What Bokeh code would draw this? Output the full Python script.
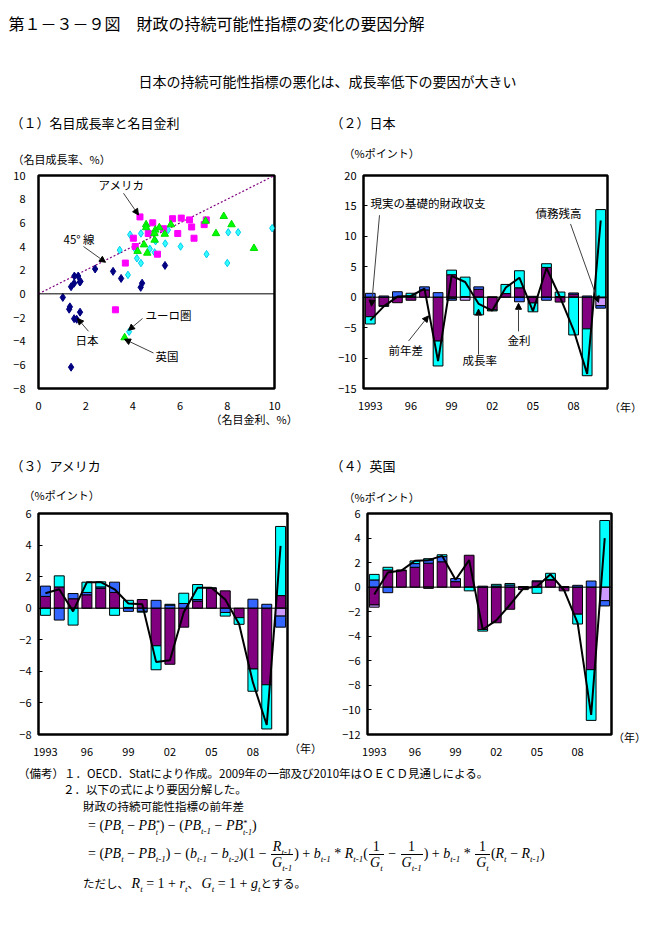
from bokeh.plotting import figure
from bokeh.layouts import column, row
from bokeh.models import Range1d, FixedTicker, Span, Arrow, NormalHead, Label, Div, ColumnDataSource
from bokeh.embed import file_html
from bokeh.resources import INLINE
from bokeh.core.properties import value

FONT = "Noto Sans CJK JP"

# ---------------- data ----------------
years = list(range(1993, 2011))
tick_years = [1993, 1996, 1999, 2002, 2005, 2008]
tick_labels = ["1993", "96", "99", "02", "05", "08"]

# (1) nominal interest rate (x) vs nominal growth rate (y), %
japan_rate = [1.03, 1.30, 1.33, 1.76, 1.51, 1.62, 1.38, 1.38, 1.51, 1.52, 1.68, 1.75, 1.78, 2.40, 3.16, 3.50, 4.33, 4.39, 5.36]
japan_growth = [-0.3, -1.3, -1.1, -1.55, -2.1, -2.15, -6.2, 0.6, 0.9, 1.5, 1.5, 1.0, 1.05, 2.1, 1.9, 1.3, 0.55, 0.9, 2.4]
us_rate = [4.30, 4.84, 5.30, 5.68, 6.05, 6.40, 6.49, 7.02, 7.11, 6.59, 5.90, 4.65, 4.02, 4.10, 5.04, 3.68, 3.26]
us_growth = [6.5, 6.0, 5.5, 6.35, 6.4, 6.25, 5.65, 5.85, 6.25, 4.7, 5.1, 5.1, 4.7, 4.0, 3.35, 2.6, -1.35]
euro_rate = [3.88, 4.34, 5.49, 3.44, 4.09, 4.17, 4.34, 4.72, 4.96, 5.37, 4.92, 3.79, 6.02, 7.12, 8.0, 8.04, 8.46, 9.9, 3.84]
euro_growth = [5.0, 5.1, 5.4, 3.7, 3.8, 3.0, 2.6, 3.8, 4.45, 4.25, 3.5, 1.6, 4.0, 3.35, 2.6, 5.2, 5.2, 5.55, -3.2]
uk_rate = [4.56, 4.56, 4.95, 5.12, 4.91, 5.61, 5.35, 4.47, 4.20, 4.61, 4.92, 7.08, 7.52, 7.85, 8.18, 9.13, 3.65]
uk_growth = [5.85, 5.6, 5.4, 5.6, 5.1, 5.85, 5.05, 4.15, 3.6, 3.45, 4.55, 6.15, 5.1, 6.55, 5.85, 3.85, -3.7]
line45_x = [0, 10]
line45_y = [0, 10]

# (2) Japan, %pt
jp_primary = [-3.2, -1.4, -0.9, -0.5, 1.2, -7.2, 3.7, 0.1, 1.3, -2.1, 0.6, 1.55, -0.95, 4.9, -0.8, 0.5, -5.2, -0.1]
jp_debt = [0, 0, 0, 0, 0, 0, -0.25, -0.5, 0, 0, 0, 0, 0, 0, 0, 0, 0, -1.3]
jp_interest = [0.64, 0.2, 0.9, 0.2, 0.5, 0.75, -0.25, 0, 0.4, 0.05, 0, -0.75, 0.15, -0.5, 0.1, 0.2, 0.2, -0.4]
jp_growth = [-1.2, -0.1, 0, 0.45, 0, -4.1, 0.75, 3.2, -2.9, -0.15, 1.5, 2.8, -1.45, 0.6, 0.75, -6.2, -7.7, 14.4]
jp_change = [-3.8, -1.5, 0.1, 0.2, 1.4, -10.5, 3.5, 2.5, -1.1, -2.2, 1.6, 3.2, -2.3, 4.8, 0.0, -5.4, -12.6, 12.6]

# (3) United States, %pt
us_primary = [0.75, 1.35, 0.6, 0.85, 1.25, 1.0, 0.05, 0.55, -2.38, -3.55, -1.2, 0.45, 1.27, 1.1, -0.6, -3.85, -4.85, 0.8]
us_debt = [0, 0, 0, 0, 0, 0, 0, 0, 0, 0, 0, 0, 0, 0, 0, 0, 0, -0.5]
us_interest = [0.65, -0.75, 0.33, 0.15, 0.1, 0.65, -0.2, -0.2, 0.5, 0.2, 0.3, 0.1, 0.02, -0.27, 0, 0.57, 0.25, -0.7]
us_growth_c = [-0.45, 0.7, -1.07, 0.65, 0.32, -0.45, 0.45, -0.05, -1.52, 0.05, 0.65, 0.95, 0, -0.23, -0.42, -1.41, -2.8, 4.38]
us_change = [0.95, 1.2, -0.2, 1.65, 1.65, 1.2, 0.3, 0.25, -3.4, -3.3, -0.25, 1.3, 1.3, 0.55, -1.0, -4.7, -7.4, 3.95]

# (4) United Kingdom, %pt
uk_primary = [-1.45, 1.4, 1.35, 1.62, 1.95, 2.07, 0.45, 2.6, -3.45, -2.9, -1.8, -0.2, 0.45, 0.58, -0.3, -2.2, -6.72, 0]
uk_debt = [-0.18, 0, 0, 0, -0.1, 0, 0, 0, 0, 0, 0, 0, 0, 0, 0, 0, 0, -1.1]
uk_interest = [0.59, -0.45, 0.05, 0.3, 0.25, 0.42, 0.25, 0, 0.08, 0.1, 0.18, 0.05, 0.07, 0.05, 0.05, 0.15, 0.5, -0.43]
uk_growth_c = [0.45, 0.22, 0, 0.22, 0.12, 0.15, 0, -0.3, -0.13, 0.13, 0.12, 0, -0.5, 0.5, 0, -0.8, -4.13, 5.43]
uk_change = [-0.6, 1.2, 1.35, 2.15, 2.2, 2.55, 0.6, 2.2, -3.45, -2.7, -1.45, -0.1, 0.05, 1.05, -0.25, -2.9, -10.4, 4.0]

C_PRIMARY = "#800080"
C_DEBT = "#CC99FF"
C_INTEREST = "#3366FF"
C_GROWTH = "#00FFFF"


# ---------------- helpers ----------------
def page_map(frame, xr, yr):
    fx0, fx1, fy0, fy1 = frame

    def f(px, py):
        return (xr[0] + (px - fx0) * (xr[1] - xr[0]) / (fx1 - fx0),
                yr[1] - (py - fy0) * (yr[1] - yr[0]) / (fy1 - fy0))
    return f


def make_fig(fig_left, fig_top, width, height, frame, xr, yr):
    fx0, fx1, fy0, fy1 = frame
    p = figure(width=width, height=height, x_range=Range1d(*xr), y_range=Range1d(*yr),
               output_backend="svg", toolbar_location=None,
               min_border_left=fx0 - fig_left, min_border_right=fig_left + width - fx1,
               min_border_top=fy0 - fig_top, min_border_bottom=fig_top + height - fy1)
    p.xgrid.visible = False
    p.ygrid.visible = False
    p.outline_line_color = "black"
    p.outline_line_width = 2.5
    p.background_fill_color = "white"
    p.border_fill_color = "white"
    for ax in (p.xaxis[0], p.yaxis[0]):
        ax.axis_line_color = None
        ax.major_tick_line_color = None
        ax.minor_tick_line_color = None
        ax.major_label_text_font = FONT
        ax.major_label_text_font_size = "11px"
        ax.major_label_text_color = "black"
        ax.major_label_standoff = 7
    return p, page_map(frame, xr, yr)


def text_fig(x0, y0, width, height, items):
    """A strip of plain text, drawn in page pixel coordinates."""
    t = figure(width=width, height=height, x_range=Range1d(x0, x0 + width),
               y_range=Range1d(y0 + height, y0), output_backend="svg", toolbar_location=None,
               x_axis_location=None, y_axis_location=None, min_border=0)
    t.grid.visible = False
    t.outline_line_color = None
    t.background_fill_color = "white"
    t.border_fill_color = "white"
    for px, py, txt, size, align in items:
        t.text(x=[px], y=[py], text=[txt], text_font=value(FONT), text_font_size=size,
               text_baseline="middle", text_align=align, text_color="black")
    return t


def text_div(x0, y0, width, height, items):
    """A narrow strip of text placed with HTML, page pixel coordinates."""
    inner = "".join(
        f"<div style=\"position:absolute;left:{px - x0}px;top:{py - y0 - 8}px;white-space:nowrap;"
        f"line-height:16px;font-family:'{FONT}';font-size:{size};color:#000;\">{txt}</div>"
        for px, py, txt, size in items)
    return Div(text=f"<div style='position:relative;width:{width}px;height:{height}px;'>{inner}</div>",
               width=width, height=height, margin=(0, 0, 0, 0))


def add_text(p, m, px, py, text, size="11.5px", align="left"):
    x, y = m(px, py)
    p.add_layout(Label(x=x, y=y, text=text, text_font=FONT, text_font_size=size,
                       text_align=align, text_baseline="middle", text_color="black"))


def add_arrow(p, m, p0, p1):
    x0, y0 = m(*p0)
    x1, y1 = m(*p1)
    p.add_layout(Arrow(end=NormalHead(size=6, fill_color="black", line_color="black", line_width=1),
                       x_start=x0, y_start=y0, x_end=x1, y_end=y1,
                       line_color="#404040", line_width=1))


def bar_panel(fig_left, fig_top, width, height, frame, yr, yticks,
              primary, debt, interest, growth, change):
    p, m = make_fig(fig_left, fig_top, width, height, frame, (1992.5, 2010.5), yr)
    p.xaxis.ticker = FixedTicker(ticks=tick_years)
    p.xaxis.major_label_overrides = {y: lab for y, lab in zip(tick_years, tick_labels)}
    p.yaxis.ticker = FixedTicker(ticks=yticks)
    p.yaxis.major_tick_line_color = "black"
    p.yaxis.major_tick_in = 4
    p.yaxis.major_tick_out = 0
    p.yaxis.major_label_standoff = 7
    n = len(years)
    pos = [0.0] * n
    neg = [0.0] * n
    for vals, col in ((primary, C_PRIMARY), (debt, C_DEBT), (interest, C_INTEREST), (growth, C_GROWTH)):
        xs, bots, tops = [], [], []
        for i, v in enumerate(vals):
            if v == 0:
                continue
            if v > 0:
                b = pos[i]
                pos[i] = b + v
            else:
                b = neg[i]
                neg[i] = b + v
            xs.append(years[i])
            bots.append(b)
            tops.append(b + v)
        src = ColumnDataSource(dict(x=xs, bottom=bots, top=tops))
        p.vbar(x="x", bottom="bottom", top="top", source=src, width=0.72, fill_color=col,
               line_color="black", line_width=1)
    p.add_layout(Span(location=0, dimension="width", line_color="black", line_width=1))
    p.line(x=years, y=change, line_color="black", line_width=2)
    return p, m


# ---------------- header strip (page y 0-166) ----------------
hdr = text_fig(0, 0, 659, 166, [
    (8, 22, "第１－３－９図　財政の持続可能性指標の変化の要因分解", "16px", "left"),
    (327, 80, "日本の持続可能性指標の悪化は、成長率低下の要因が大きい", "14px", "center"),
    (10, 122, "（１）名目成長率と名目金利", "13px", "left"),
    (330, 122, "（２）日本", "13px", "left"),
    (12, 158, "（名目成長率、%）", "11px", "left"),
    (343, 152, "（%ポイント）", "11px", "left"),
])

# ---------------- (1) scatter ----------------
p1, m1 = make_fig(0, 166, 330, 246, (38, 274, 175, 391), (0, 10), (-8, 10))
p1.xaxis.ticker = FixedTicker(ticks=[0, 2, 4, 6, 8, 10])
p1.yaxis.ticker = FixedTicker(ticks=list(range(-8, 11, 2)))
p1.add_layout(Span(location=0, dimension="width", line_color="black", line_width=1))
p1.line(x=line45_x, y=line45_y, line_color="#800080", line_width=1.2, line_dash="2 2")

sc_x, sc_y, sc_m, sc_s, sc_f, sc_l = [], [], [], [], [], []
for rx, gy, mk, sz, fc, lc in ((japan_rate, japan_growth, "diamond", 8, "#000080", "#000080"),
                               (euro_rate, euro_growth, "diamond", 7.5, "#33FFFF", "#00CCEE"),
                               (us_rate, us_growth, "square", 6, "#FF00FF", "#FF00FF"),
                               (uk_rate, uk_growth, "triangle", 7.5, "#00FF00", "#00DD00")):
    for a, b in zip(rx, gy):
        sc_x.append(float(a))
        sc_y.append(float(b))
        sc_m.append(mk)
        sc_s.append(sz)
        sc_f.append(fc)
        sc_l.append(lc)
sc_src = ColumnDataSource(dict(x=sc_x, y=sc_y, marker=sc_m, size=sc_s, fill=sc_f, line=sc_l))
p1.scatter(x="x", y="y", marker="marker", size="size", fill_color="fill", line_color="line",
           source=sc_src)

add_text(p1, m1, 98, 185, "アメリカ")
add_text(p1, m1, 63, 239, "45°  線")
add_text(p1, m1, 145, 316, "ユーロ圏")
add_text(p1, m1, 75, 342, "日本")
add_text(p1, m1, 155, 358, "英国")
add_arrow(p1, m1, (123, 193), (138, 215))
add_arrow(p1, m1, (83, 247), (105, 263))
add_arrow(p1, m1, (142, 320), (128, 332))
add_arrow(p1, m1, (88, 333), (77, 320))
add_arrow(p1, m1, (153, 355), (124, 341))

# ---------------- (2) Japan ----------------
p2, m2 = bar_panel(330, 166, 279, 246, (363, 607, 172, 392), (-15, 20), list(range(-15, 21, 5)),
                   jp_primary, jp_debt, jp_interest, jp_growth, jp_change)
add_text(p2, m2, 370, 200, "現実の基礎的財政収支")
add_text(p2, m2, 535, 211, "債務残高")
add_text(p2, m2, 388, 352, "前年差")
add_text(p2, m2, 462, 363, "成長率")
add_text(p2, m2, 507, 342, "金利")
add_arrow(p2, m2, (379, 213), (371, 307))
add_arrow(p2, m2, (570, 222), (598, 303))
add_arrow(p2, m2, (408, 343), (428, 317))
add_arrow(p2, m2, (478, 357), (478, 310))
add_arrow(p2, m2, (518, 333), (518, 304))
s2 = text_div(609, 166, 46, 246, [(609, 407, "（年）", "11px")])

# ---------------- middle strip (page y 412-504) ----------------
mid = text_fig(0, 412, 659, 92, [
    (210, 418, "（名目金利、%）", "11px", "left"),
    (10, 465, "（３）アメリカ", "13px", "left"),
    (330, 465, "（４）英国", "13px", "left"),
    (23, 494, "（%ポイント）", "11px", "left"),
    (343, 496, "（%ポイント）", "11px", "left"),
])

# ---------------- (3) USA ----------------
p3, m3 = bar_panel(0, 504, 289, 256, (38, 287, 512, 734), (-8, 6), list(range(-8, 7, 2)),
                   us_primary, us_debt, us_interest, us_growth_c, us_change)
s3 = text_div(289, 504, 41, 256, [(289, 748, "（年）", "11px")])

# ---------------- (4) UK ----------------
p4, m4 = bar_panel(330, 504, 283, 256, (367, 611, 513, 735), (-12, 6), list(range(-12, 7, 2)),
                   uk_primary, uk_debt, uk_interest, uk_growth_c, uk_change)
s4 = text_div(613, 504, 42, 256, [(613, 737, "（年）", "11px")])

# ---------------- notes (page y 760-) ----------------
JS = "font-family:'Noto Sans CJK JP';font-size:11.5px;"
MS = "font-family:'Liberation Serif','DejaVu Serif',serif;font-size:14px;"


def it(s):
    return f"<i>{s}</i>"


def sb(s):
    return f"<sub style='font-size:9px;line-height:0;'><i>{s}</i></sub>"


def ss(sup, sub):
    return ("<span style='display:inline-block;vertical-align:-5px;line-height:9px;font-size:8px;'>"
            f"<i>{sup}</i><br><i>{sub}</i></span>")


def frac(num, den):
    return ("<span style='display:inline-block;vertical-align:middle;text-align:center;margin:0 1px;line-height:13px;'>"
            f"<span style='display:block;border-bottom:1px solid #000;padding:0 1px 1px 1px;'>{num}</span>"
            f"<span style='display:block;padding:1px 1px 0 1px;'>{den}</span></span>")


PB = it("PB")
line4 = f"= ({PB}{sb('t')} − {PB}{ss('*', 't')}) − ({PB}{sb('t-1')} − {PB}{ss('*', 't-1')})"
line5 = (f"= ({PB}{sb('t')} − {PB}{sb('t-1')}) − ({it('b')}{sb('t-1')} − {it('b')}{sb('t-2')})"
         f"(1 − {frac(it('R') + sb('t-1'), it('G') + sb('t-1'))}) + {it('b')}{sb('t-1')} * "
         f"{it('R')}{sb('t-1')}({frac('1', it('G') + sb('t'))} − {frac('1', it('G') + sb('t-1'))}) + "
         f"{it('b')}{sb('t-1')} * {frac('1', it('G') + sb('t'))}({it('R')}{sb('t')} − {it('R')}{sb('t-1')})")
line6 = (f"<span style=\"{JS}\">ただし、 </span>{it('R')}{sb('t')} = 1 + {it('r')}{sb('t')}"
         f"<span style=\"{JS}\">、 </span>{it('G')}{sb('t')} = 1 + {it('g')}{sb('t')}"
         f"<span style=\"{JS}\">とする。</span>")


def line(left, top, html, style):
    return (f"<div style=\"position:absolute;left:{left}px;top:{top}px;white-space:nowrap;"
            f"line-height:14px;color:#000;{style}\">{html}</div>")


notes_html = ("<div style='position:relative;width:655px;height:150px;'>"
              + line(18, 6, "（備考）１．OECD．Statにより作成。2009年の一部及び2010年はＯＥＣＤ見通しによる。", JS)
              + line(63, 22, "２．以下の式により要因分解した。", JS)
              + line(83, 39, "財政の持続可能性指標の前年差", JS)
              + line(88, 59, line4, MS)
              + line(88, 80, line5, MS)
              + line(83, 116, line6, MS)
              + "</div>")
notes = Div(text=notes_html, width=655, height=150, margin=(0, 0, 0, 0))

layout = column(hdr, row(p1, p2, s2), mid, row(p3, s3, p4, s4), notes)
open("out.html", "w").write(file_html(layout, INLINE))
